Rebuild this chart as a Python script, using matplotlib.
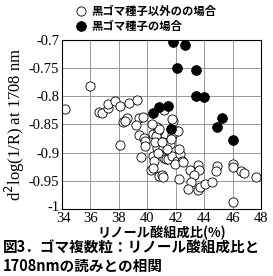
import matplotlib
matplotlib.use("Agg")
import matplotlib.pyplot as plt
import matplotlib.transforms as mtrans
import numpy as np

plt.rcParams["axes.unicode_minus"] = False

# open circles: not black sesame
other_x = [34.2, 35.97, 36.63, 36.8, 37.26, 37.26, 37.73, 38.1, 38.74, 39.3,
           38.55, 38.32, 38.45, 39.45, 39.2, 39.45, 39.77, 40.39, 40.71, 40.67,
           38.05, 39.55, 39.85, 39.85, 40.67, 40.67, 40.43, 40.48, 40.29, 40.81,
           39.68, 41.2, 41.79, 42.07, 41.72, 40.78, 40.62, 40.55, 41.09, 41.49,
           41.61, 41.65, 40.95, 41.18, 41.32, 41.49, 41.72, 42.07, 42.31, 42.43,
           42.26, 41.02, 41.13, 42.26, 43.01, 43.6, 43.67, 43.3, 43.1, 42.9,
           43.6, 43.72, 44.07, 44.54, 44.9, 44.85, 46.0, 46.0, 46.6, 46.77,
           47.66, 46.02, 41.96, 42.54, 42.15, 41.77, 40.8, 40.35, 41.13, 41.37,
           40.73, 41.06, 40.43]
other_y = [-0.822, -0.781, -0.827, -0.830, -0.821, -0.813, -0.809, -0.817, -0.812, -0.806,
           -0.839, -0.845, -0.843, -0.838, -0.851, -0.868, -0.874, -0.867, -0.855, -0.875,
           -0.886, -0.907, -0.879, -0.888, -0.879, -0.891, -0.906, -0.914, -0.930, -0.941,
           -0.837, -0.825, -0.843, -0.862, -0.868, -0.862, -0.871, -0.881, -0.881, -0.881,
           -0.885, -0.875, -0.900, -0.909, -0.911, -0.912, -0.906, -0.915, -0.903, -0.915,
           -0.893, -0.940, -0.944, -0.946, -0.930, -0.922, -0.930, -0.940, -0.953, -0.964,
           -0.967, -0.961, -0.956, -0.953, -0.923, -0.932, -0.921, -0.925, -0.932, -0.936,
           -0.943, -0.988, -0.920, -0.916, -0.861, -0.841, -0.858, -0.850, -0.891, -0.894,
           -0.901, -0.882, -0.927]

# filled circles: black sesame
black_x = [41.84, 42.66, 42.12, 43.44, 43.44, 44.02, 40.85, 41.46, 40.39, 45.29,
           44.9, 41.68, 46.02]
black_y = [-0.704, -0.708, -0.750, -0.754, -0.799, -0.801, -0.819, -0.817, -0.830, -0.838,
           -0.855, -0.858, -0.877]

x_ticks = [34, 36, 38, 40, 42, 44, 46, 48]
y_ticks = [-1, -0.95, -0.9, -0.85, -0.8, -0.75, -0.7]
y_tick_labels = ["-1", "-0.95", "-0.9", "-0.85", "-0.8", "-0.75", "-0.7"]

serif = "Liberation Serif"
jp = ["Noto Sans CJK JP", "DejaVu Sans"]

fig = plt.figure(figsize=(2.73, 2.76), dpi=100, facecolor="w")
ax = fig.add_axes([0.227, 0.243, 0.729, 0.612])

l1, = ax.plot(other_x, other_y, "o", ms=6.6, mfc="white", mec="black", mew=0.6, linestyle="none")
l2, = ax.plot(black_x, black_y, "o", ms=7.0, mfc="black", mec="black", mew=0.6, linestyle="none")

ax.set_xlim(34, 48)
ax.set_ylim(-1, -0.7)
ax.set_xticks(x_ticks)
ax.set_yticks(y_ticks)
ax.set_yticklabels(y_tick_labels)
ax.grid(True, color="#888888", linewidth=0.6)
ax.set_axisbelow(True)
ax.tick_params(length=0, pad=2)
for lab in ax.get_xticklabels() + ax.get_yticklabels():
    lab.set_fontfamily(serif)
    lab.set_fontsize(10.5)
# lift the "-1" a little so it clears the "34"
ylabs = ax.get_yticklabels()
ylabs[0].set_transform(ylabs[0].get_transform() +
                       mtrans.ScaledTranslation(0, 3 / 100, fig.dpi_scale_trans))
xlabs = ax.get_xticklabels()
xlabs[0].set_transform(xlabs[0].get_transform() +
                       mtrans.ScaledTranslation(2 / 100, 0, fig.dpi_scale_trans))
for s in ax.spines.values():
    s.set_linewidth(0.8)

ax.set_ylabel("d$^2$log(1/R) at 1708 nm", fontfamily=serif, fontsize=12, labelpad=1)
ax.set_xlabel("リノール酸組成比(%)", fontfamily=jp, fontsize=9.5, fontweight="bold", labelpad=1)

fig.legend([l1, l2], ["黒ゴマ種子以外のの場合", "黒ゴマ種子の場合"],
           loc="upper left", bbox_to_anchor=(0.245, 1.01), frameon=False,
           prop={"family": jp, "size": 8.2, "weight": "bold"},
           handletextpad=0.5, labelspacing=0.15, handlelength=1.0, borderpad=0.2)

fig.text(0.01, 0.085, "図3．ゴマ複数粒：リノール酸組成比と", fontfamily=jp, fontsize=10.5,
         fontweight="bold", ha="left", va="baseline")
fig.text(0.01, 0.02, "1708nmの読みとの相関", fontfamily=jp, fontsize=10.5,
         fontweight="bold", ha="left", va="baseline")

fig.savefig("out.png", dpi=100, facecolor="w")
